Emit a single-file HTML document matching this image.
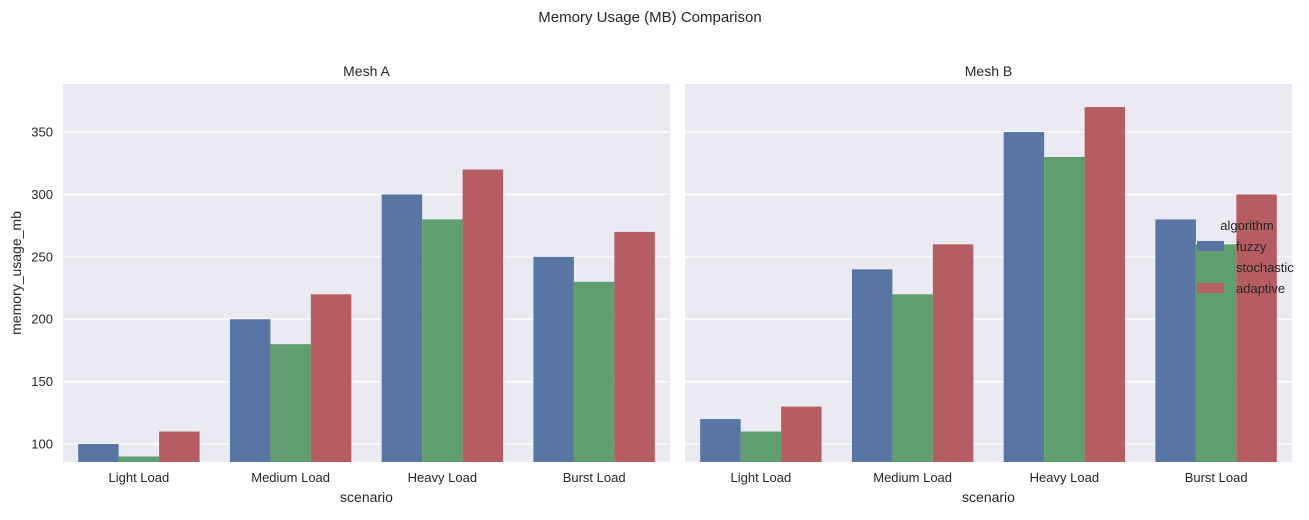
<!DOCTYPE html>
<html><head><meta charset="utf-8"><style>
body{margin:0;background:#fff;font-family:"Liberation Sans",sans-serif}
</style></head><body>
<svg id="c" width="1309" height="515" xmlns="http://www.w3.org/2000/svg" font-family="Liberation Sans, sans-serif">
<text x="650" y="22" text-anchor="middle" font-size="15" fill="#262626">Memory Usage (MB) Comparison</text>
<g id="g"></g>
</svg>
<script>
const categories=["Light Load","Medium Load","Heavy Load","Burst Load"];
const algorithms=["fuzzy","stochastic","adaptive"];
const panels=["Mesh A","Mesh B"];
const meshAFuzzy=[100,200,300,250];
const meshAStochastic=[90,180,280,230];
const meshAAdaptive=[110,220,320,270];
const meshBFuzzy=[120,240,350,280];
const meshBStochastic=[110,220,330,260];
const meshBAdaptive=[130,260,370,300];
const yTicks=[100,150,200,250,300,350];
const colors=["#5875a4","#5f9e6e","#b55d60"];
const data=[[meshAFuzzy,meshAStochastic,meshAAdaptive],[meshBFuzzy,meshBStochastic,meshBAdaptive]];
const NS="http://www.w3.org/2000/svg";
const g=document.getElementById('g');
const plotTop=84,plotBot=462,pw=607,lefts=[63,685];
const yMin=85.6,yMax=388.5;
function y(v){return plotBot-(v-yMin)/(yMax-yMin)*(plotBot-plotTop);}
function el(t,a,txt){const e=document.createElementNS(NS,t);for(const k in a)e.setAttribute(k,a[k]);if(txt!==undefined)e.textContent=txt;g.appendChild(e);return e;}
panels.forEach((p,pi)=>{
  const L=lefts[pi];
  const bg=el('rect',{x:L,y:plotTop,width:pw,height:plotBot-plotTop,fill:'#eaeaf2'});
  
  
  const tt=el('text',{x:L+pw/2,y:76,'text-anchor':'middle','font-size':14,fill:'#262626'},p);
  
  
  yTicks.forEach(t=>{
    const gl=el('line',{x1:L,x2:L+pw,y1:y(t),y2:y(t),stroke:'#fff','stroke-width':1.3});
    
    
    if(pi==0){const tl=el('text',{x:L-10,y:y(t)+4.5,'text-anchor':'end','font-size':13,fill:'#262626'},t);
      
      }
  });
  const cw=pw/categories.length,bw=cw*0.8/3;
  categories.forEach((c,ci)=>{
    const cx=L+cw*(ci+0.5);
    algorithms.forEach((a,ai)=>{
      const v=data[pi][ai][ci];
      const r=el('rect',{x:cx-1.5*bw+ai*bw,y:y(v),width:bw,height:plotBot-y(v),fill:colors[ai]});
      
      
    });
    const xl=el('text',{x:cx,y:482,'text-anchor':'middle','font-size':13,fill:'#262626'},c);
    
    
  });
  const xt=el('text',{x:L+pw/2,y:502,'text-anchor':'middle','font-size':14,fill:'#262626'},'scenario');
  
  
});
const yt=el('text',{x:21,y:273,'text-anchor':'middle','font-size':14,fill:'#262626',transform:'rotate(-90 21 273)'},'memory_usage_mb');


const lt=el('text',{x:1247,y:230,'text-anchor':'middle','font-size':13,fill:'#262626'},'algorithm');


algorithms.forEach((a,ai)=>{
  const yy=246+ai*21;
  const pr=el('rect',{x:1197,y:yy-5,width:27,height:10,fill:colors[ai]});
  
  
  const tx=el('text',{x:1236,y:yy+5,'font-size':13,fill:'#262626'},a);
  
  
});
</script>
</body></html>
